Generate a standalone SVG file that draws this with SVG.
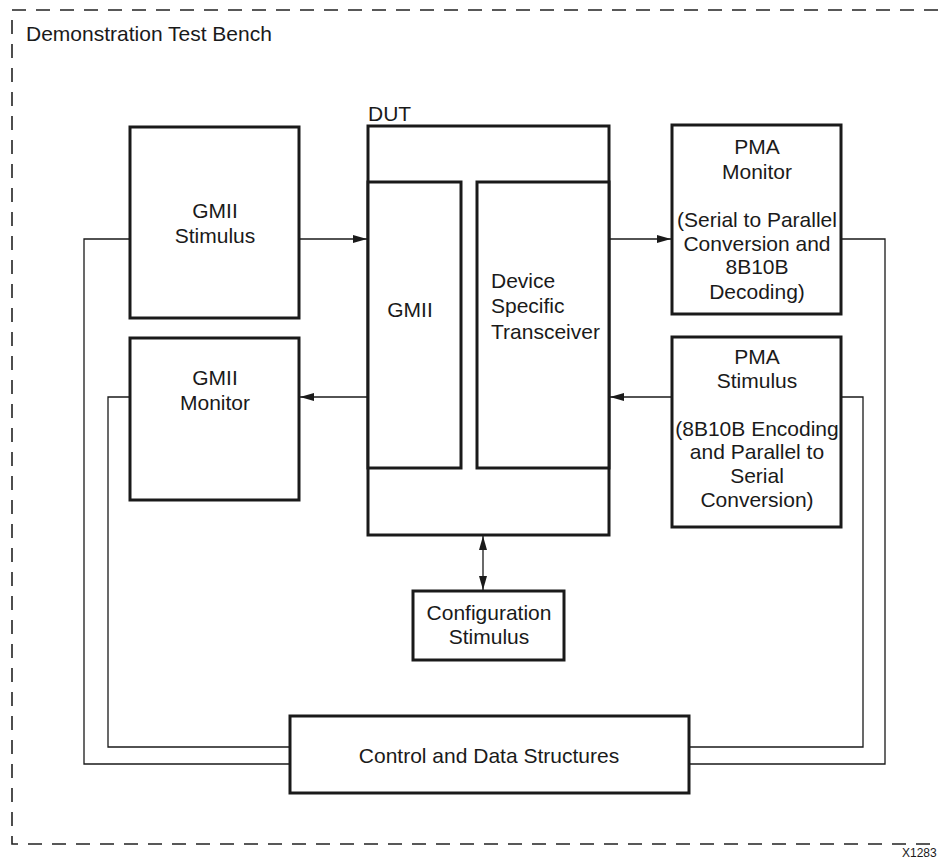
<svg xmlns="http://www.w3.org/2000/svg" width="938" height="860" viewBox="0 0 938 860">
<style>
text{font-family:"Liberation Sans",Arial,sans-serif;font-size:21px;fill:#1a1a1a}
.c{text-anchor:middle}
.box{fill:#fff;stroke:#1a1a1a;stroke-width:3}
.ln{fill:none;stroke:#1a1a1a;stroke-width:1.3}
.frame{fill:none;stroke:#222;stroke-width:1.6;stroke-dasharray:14 10}
</style>
<defs>
<marker id="ah" markerUnits="userSpaceOnUse" markerWidth="15" markerHeight="10" refX="14" refY="5" orient="auto-start-reverse">
<path d="M0,1 L14,5 L0,9 Z" fill="#1a1a1a"/>
</marker>
</defs>
<rect width="938" height="860" fill="#fff"/>
<g id="frame">
<path class="frame" d="M938,10 H12 V844 H938"/>
<text x="26" y="41">Demonstration Test Bench</text>
<text x="902" y="857" style="font-size:12px">X1283</text>
</g>
<g id="connectors">
<path class="ln" d="M299,239 H367" marker-end="url(#ah)"/>
<path class="ln" d="M367,397 H300" marker-end="url(#ah)"/>
<path class="ln" d="M609,239 H671" marker-end="url(#ah)"/>
<path class="ln" d="M671,397 H610" marker-end="url(#ah)"/>
<path class="ln" d="M483,536 V590" marker-start="url(#ah)" marker-end="url(#ah)"/>
<path class="ln" d="M130,239 H84 V764 H290"/>
<path class="ln" d="M130,397 H108 V747 H290"/>
<path class="ln" d="M841,239 H885 V764 H689"/>
<path class="ln" d="M841,397 H863 V747 H689"/>
</g>
<g id="gmii-stimulus">
<rect class="box" x="130" y="127" width="169" height="191"/>
<text class="c" x="215" y="218">GMII</text>
<text class="c" x="215" y="243">Stimulus</text>
</g>
<g id="gmii-monitor">
<rect class="box" x="130" y="338" width="169" height="162"/>
<text class="c" x="215" y="385">GMII</text>
<text class="c" x="215" y="410">Monitor</text>
</g>
<g id="dut">
<text x="368" y="121">DUT</text>
<rect class="box" x="368" y="126" width="241" height="409"/>
</g>
<g id="gmii">
<rect class="box" x="368" y="182" width="93" height="286"/>
<text class="c" x="410" y="317">GMII</text>
</g>
<g id="transceiver">
<rect class="box" x="477" y="182" width="132" height="286"/>
<text x="491" y="288">Device</text>
<text x="491" y="313">Specific</text>
<text x="491" y="339">Transceiver</text>
</g>
<g id="pma-monitor">
<rect class="box" x="672" y="125" width="169" height="189"/>
<text class="c" x="757" y="154">PMA</text>
<text class="c" x="757" y="179">Monitor</text>
<text class="c" x="757" y="227">(Serial to Parallel</text>
<text class="c" x="757" y="251">Conversion and</text>
<text class="c" x="757" y="274">8B10B</text>
<text class="c" x="757" y="299">Decoding)</text>
</g>
<g id="pma-stimulus">
<rect class="box" x="672" y="337" width="169" height="190"/>
<text class="c" x="757" y="364">PMA</text>
<text class="c" x="757" y="388">Stimulus</text>
<text class="c" x="757" y="436">(8B10B Encoding</text>
<text class="c" x="757" y="459">and Parallel to</text>
<text class="c" x="757" y="483">Serial</text>
<text class="c" x="757" y="507">Conversion)</text>
</g>
<g id="config-stimulus">
<rect class="box" x="413" y="591" width="151" height="69"/>
<text class="c" x="489" y="620">Configuration</text>
<text class="c" x="489" y="644">Stimulus</text>
</g>
<g id="control-data">
<rect class="box" x="290" y="716" width="399" height="77"/>
<text class="c" x="489" y="763">Control and Data Structures</text>
</g>
</svg>
